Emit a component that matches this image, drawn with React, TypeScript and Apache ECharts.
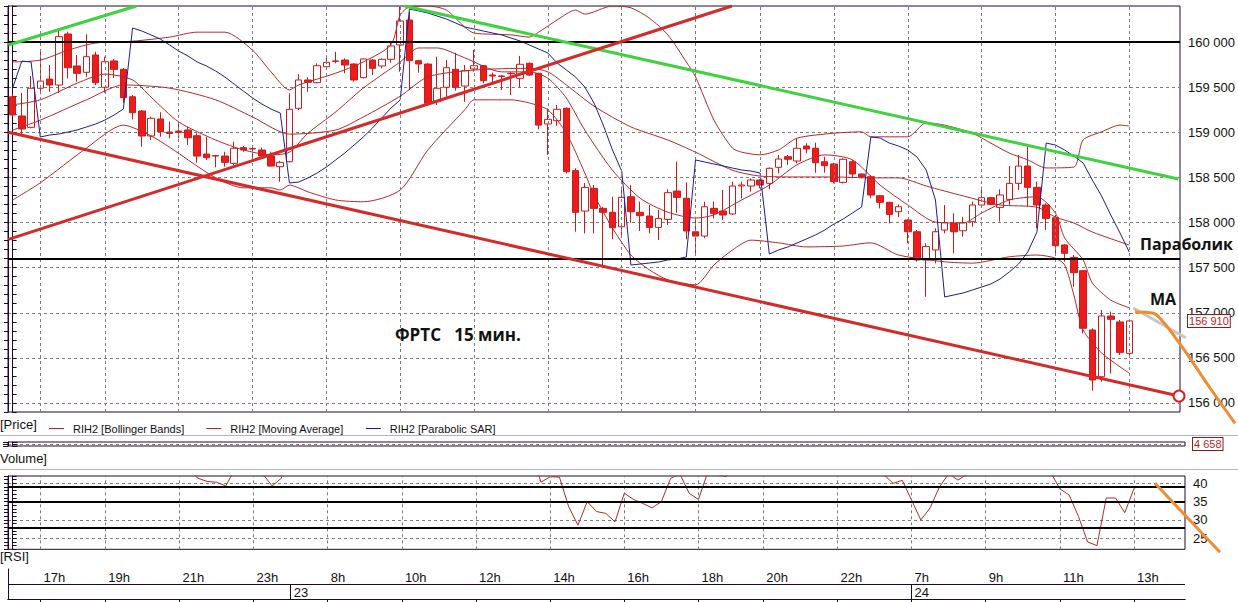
import React, { useEffect, useRef } from 'react';
import * as echarts from 'echarts';

// ---------------- data ----------------
// 15-minute bars, [open, close, low, high]
const candles: number[][] = [
  [159394,159192,159170,159420],[159181,159037,158970,159436],[159055,159488,159044,159624],[159488,159568,159420,159893],
  [159590,159524,159450,159746],[159524,160060,159436,160142],[160090,159716,159598,160115],[159735,159654,159561,159857],
  [159665,159838,159616,160086],[159857,159550,159524,159893],[159499,159783,159439,159838],[159791,159698,159602,159813],
  [159698,159384,159328,159713],[159394,159217,159144,159413],[159236,158959,158840,159247],[158959,159155,158915,159173],
  [159148,159007,158952,159222],[159003,158988,158934,159118],[159014,158999,158934,159106],[159026,158940,158859,159062],
  [158962,158737,158663,158989],[158759,158718,158693,158952],[158742,158737,158612,158749],[158737,158667,158619,158785],
  [158656,158823,158637,158896],[158830,158804,158785,158848],[158822,158815,158711,158840],[158804,158737,158723,158830],
  [158737,158626,158619,158785],[158619,158667,158452,158685],[158674,159255,158667,159432],[159266,159580,159247,159646],
  [159580,159554,159450,159610],[159550,159738,159543,159765],[159727,159776,159709,159849],[159791,159787,159765,159893],
  [159801,159746,159654,159820],[159757,159580,159561,159765],[159606,159813,159598,159820],[159801,159709,159635,159809],
  [159735,159809,159709,159820],[159809,159957,159772,159993],[159968,160234,159672,160392],[160245,159794,159469,160337],
  [159794,159757,159661,159801],[159757,159321,159291,159765],[159339,159488,159303,159838],[159499,159716,159395,159801],
  [159698,159499,159461,159882],[159513,159683,159339,159746],[159702,159738,159672,159912],[159738,159572,159543,159746],
  [159635,159624,159524,159661],[159624,159620,159469,159635],[159654,159650,159413,159670],[159598,159754,159499,159846],
  [159765,159635,159624,159772],[159654,159080,159033,159661],[159092,159144,158749,159266],[159129,159255,159070,159303],
  [159266,158564,158545,159277],[158575,158113,157898,158601],[158127,158389,157880,158438],[158379,158157,157880,158416],
  [158157,158113,157510,158175],[158113,157942,157814,158286],[157953,158279,157843,158397],[158286,158120,157998,158416],
  [158113,158076,157906,158231],[158072,157946,157880,158194],[157946,158046,157806,158139],[158035,158331,157973,158368],
  [158349,158279,158109,158674],[158269,157906,157814,158446],[157898,157850,157640,158064],[157850,158175,157825,158231],
  [158157,158102,158046,158231],[158128,158083,158028,158360],[158095,158405,158083,158453],[158405,158416,158269,158453],
  [158405,158471,158342,158490],[158471,158416,158379,158479],[158434,158601,158368,158612],[158612,158704,158545,158749],
  [158730,158701,158637,158749],[158682,158823,158656,158933],[158848,158815,158767,158878],[158823,158663,158552,158885],
  [158674,158630,158552,158730],[158649,158453,158434,158663],[158445,158701,158434,158712],[158674,158538,158490,158693],
  [158538,158508,158490,158545],[158508,158305,158269,158527],[158297,158224,158157,158305],[158224,158090,157990,158230],
  [158120,158175,158060,158200],[158028,157898,157770,158035],[157898,157585,157566,157917],[157585,157733,157178,157770],
  [157696,157898,157548,157936],[157917,157998,157880,158194],[157991,157898,157659,158102],[157909,157998,157843,158064],
  [158010,158194,157954,158231],[158194,158275,158175,158397],[158275,158201,158191,158283],[158168,158305,158010,158368],
  [158257,158434,158194,158626],[158434,158626,158360,158749],[158626,158390,158175,158841],[158390,158194,157936,158453],
  [158194,158046,157917,158212],[158053,157743,157659,158083],[157751,157659,157566,157762],[157614,157444,157289,157640],
  [157466,156828,156772,157474],[156809,156255,156137,156828],[156291,156964,156236,157031],[156964,156927,156329,157012],
  [156898,156561,156532,156920],[156550,156910,156513,156920],
];

// Bollinger bands, [bar, value]
const upperBand: number[][] = [
  [0,159780],[3,159800],[6,159910],[9,159990],[13,160010],[17,160055],[20,160110],[23,160110],[26,159910],[28,159670],
  [30,159470],[31,159525],[35,159655],[38,159780],[41,159970],[42,160300],[43,160390],[45,160400],[47,160355],[49,160165],
  [50,160100],[54,160080],[56,160055],[57,160110],[59,160245],[61,160355],[62,160310],[65,160400],[67,160380],[69,160265],
  [71,160080],[73,159780],[74,159615],[76,159135],[78,158825],[79,158780],[81,158750],[83,158805],[85,158935],[89,158990],
  [92,159005],[93,158950],[97,158950],[99,159105],[101,159080],[104,158990],[106,158880],[108,158770],[110,158695],[112,158605],
  [115,158615],[116,158915],[118,159005],[120,159080],[121,159070],
];
const middleBand: number[][] = [
  [0,159025],[3,159135],[8,159360],[12,159525],[17,159490],[22,159360],[26,159170],[30,158980],[35,159025],[38,159170],
  [42,159400],[45,159615],[50,159690],[56,159710],[58,159670],[60,159525],[63,159290],[67,159060],[71,158915],[74,158780],
  [78,158580],[81,158515],[85,158505],[89,158505],[93,158495],[96,158495],[99,158405],[103,158295],[107,158195],[111,158170],
  [113,158060],[115,157995],[117,157895],[121,157750],
];
const lowerBand: number[][] = [
  [0,158250],[3,158440],[8,158825],[12,159080],[15,158960],[17,158835],[22,158495],[25,158385],[28,158385],[29,158360],
  [30,158415],[32,158340],[35,158250],[38,158230],[42,158360],[45,158805],[49,159250],[50,159360],[54,159360],[56,159325],
  [58,159250],[60,158990],[62,158550],[63,158305],[65,157940],[67,157640],[69,157475],[71,157365],[74,157310],[76,157530],
  [78,157695],[80,157805],[83,157775],[86,157730],[90,157740],[93,157775],[96,157640],[101,157565],[104,157550],[108,157620],
  [111,157640],[113,157605],[114,157530],[115,157195],[116,156810],[118,156555],[121,156330],
];
const movingAverage: number[][] = [
  [0,159305],[3,159360],[7,159545],[10,159645],[13,159580],[15,159390],[18,159115],[22,158915],[25,158805],[28,158750],
  [30,158780],[32,158990],[35,159225],[38,159490],[42,159780],[44,159935],[46,159935],[49,159825],[53,159670],[56,159670],
  [58,159600],[60,159380],[62,159025],[65,158580],[68,158270],[71,158115],[74,158050],[76,158085],[79,158250],[82,158415],
  [85,158640],[88,158750],[91,158695],[94,158415],[97,158195],[100,158005],[103,157995],[105,158105],[108,158250],[111,158285],
  [113,158105],[114,157830],[116,157585],[117,157330],[119,157140],[121,157055],
];
// Parabolic SAR, one value per bar
const sarValues: number[] = [
  159491,159790,159779,158948,158970,158981,159003,159026,159059,159092,
  159136,159192,159258,160156,160123,160079,160034,159968,159901,159846,
  159779,159735,159680,159613,159535,159458,159380,159314,159258,159214,
  158438,158449,158494,158549,158615,158693,158771,158859,158948,159048,
  159159,159269,159358,160367,160345,160322,160289,160256,160212,160167,
  160145,160123,160101,160079,160045,160012,159968,159923,159879,159768,
  159691,159613,159502,159325,159081,158804,158571,157529,157540,157551,
  157563,157585,157596,157618,158693,158671,158649,158627,158604,158582,
  158571,158549,157651,157696,157729,157773,157817,157862,157917,157984,
  158039,158106,158172,158948,158937,158881,158848,158804,158726,158582,
  158250,157175,157197,157219,157252,157285,157319,157374,157452,157540,
  157673,157895,158881,158859,158804,158737,158660,158471,158294,158083,
  157884,157673,
];
// RSI, one value per bar (values above 42 run off the top of the panel)
const rsiValues: number[] = [
  45,44,52,54,53,62,55,54,58,52,
  57,55,49,46,43,47,45,44.5,44.8,43.5,
  41.4,40.5,40.3,39.3,44,43.5,43.4,42.5,39.3,41.4,
  55,60,59,62,63,63,61,57,61,58,
  60,63,67,57,56,48,51,55,50,53,
  54,50,49.5,49.4,49.5,52,49,40.3,41.8,41.7,
  33.6,28.6,35.0,32.3,31.8,29.5,37.3,35.6,34.5,33.3,
  35.0,41.4,42.5,37.3,35.6,43,42.5,41.8,46,46.3,
  47,46,49,51,50.5,53,52,48,47,43.5,
  49,46,45.5,42.5,42.4,40.0,40.8,35.4,30.0,33.3,
  39.0,42.6,40.9,42.5,46,48,46.5,49,52,56,
  50,46,43,38.5,36.8,31.0,24.0,23.0,36.0,36.0,
  32.0,38.6,
];

const hourTickBars = [3, 10, 18, 26, 34, 42, 50, 58, 66, 74, 81, 89, 97, 105, 113, 121];
const hourTickLabels = ['17h','19h','21h','23h','8h','10h','12h','14h','16h','18h','20h','22h','7h','9h','11h','13h'];
const dayStartBars = [30, 97];
const dayLabels = ['23', '24'];

const priceLevels = [160000, 157600];
const rsiLevels = [39, 35, 28];
const lastVolume = 4658;

// hand-drawn lines, [bar, value]
const greenTrend1 = [[-0.46, 159968], [13.39, 160400]];
const greenTrend2 = [[42.45, 160400], [126.32, 158482]];
const redTrend1 = [[-0.46, 157814], [77.94, 160400]];
const redTrend2 = [[-0.46, 159000], [126.39, 156077]];
const maForecast = [[121.1, 157008], [123.08, 156994], [124.13, 156901], [125.42, 156731], [126.68, 156550], [129.2, 156166], [131.9, 155775]];
const maExtension = [[120.92, 157053], [126.57, 156723]];
const rsiForecast = [[123.26, 40], [130.28, 21.2]];

// ---------------- layout / style ----------------
const AX = '#1e0a28';
const GRID = '#7c7c7c';
const RED = '#b4282c';
const BLUE = '#1d1d8f';
const GREEN = '#3ed23e';
const TREND_RED = '#d42a2a';
const ORANGE = '#f08c32';
const SANS = '"Liberation Sans", Arial, sans-serif';
const BOLD = '"Open Sans", "Noto Sans", sans-serif';
const DASH = [3, 3];

const BB = 'RIH2 [Bollinger Bands]';
const MA = 'RIH2 [Moving Average]';
const SAR = 'RIH2 [Parabolic SAR]';

const PLOT_LEFT = 8;
const PLOT_W = 1177;
const MAIN_TOP = 6;
const MAIN_H = 406;
const RSI_TOP = 476;
const RSI_H = 73.3;
const EXT_W = 1230; // annotation layer reaching to the page edge

const PRICE_MIN = 155900;
const PRICE_MAX = 160400;
const RSI_MIN = 22;
const RSI_MAX = 42;
const X_MIN = -0.5;
const X_MAX = 126.5;
const SLOT_COUNT = 127;

const fmt = (v: number) => {
  const s = String(Math.round(v));
  return s.length > 3 ? s.slice(0, -3) + ' ' + s.slice(-3) : s;
};

function buildOption() {
  const slots = Array.from({ length: SLOT_COUNT }, (_, i) => String(i));
  const hourSet = new Set(hourTickBars);
  const daySet = new Set(dayStartBars);
  const hourLabel = (v: string) => {
    const k = hourTickBars.indexOf(Number(v));
    return k >= 0 ? hourTickLabels[k] : '';
  };
  const dayLabel = (v: string) => {
    const k = dayStartBars.indexOf(Number(v));
    return k >= 0 ? dayLabels[k] : '';
  };
  const lastClose = candles[candles.length - 1][1];

  // annotation layers share the scales of the panels but reach past their right edge
  const extXMax = X_MIN + ((X_MAX - X_MIN) * EXT_W) / PLOT_W;
  const extMainH = 602 - MAIN_TOP;
  const extPriceMin = PRICE_MAX - ((PRICE_MAX - PRICE_MIN) * extMainH) / MAIN_H;
  const extRsiH = 602 - RSI_TOP;
  const extRsiMin = RSI_MAX - ((RSI_MAX - RSI_MIN) * extRsiH) / RSI_H;

  const vGrid = (xi: number, yi: number) => ({
    type: 'line', xAxisIndex: xi, yAxisIndex: yi, data: [], z: 0, silent: true,
    markLine: {
      silent: true, symbol: ['none', 'none'], animation: false, label: { show: false },
      lineStyle: { color: GRID, type: DASH, width: 1 },
      data: hourTickBars.map((b) => ({ xAxis: b })),
    },
  });
  const hLevels = (xi: number, yi: number, levels: number[]) => ({
    type: 'line', xAxisIndex: xi, yAxisIndex: yi, data: [], z: 4, silent: true,
    markLine: {
      silent: true, symbol: ['none', 'none'], animation: false, label: { show: false },
      lineStyle: { color: '#000', type: 'solid', width: 2 },
      data: levels.map((l) => ({ yAxis: l })),
    },
  });
  const tag = (xi: number, yi: number, value: number) => ({
    type: 'line', xAxisIndex: xi, yAxisIndex: yi, data: [], z: 6, silent: true,
    markLine: {
      silent: true, symbol: ['none', 'none'], animation: false,
      lineStyle: { color: 'transparent', width: 0 },
      label: {
        show: true, position: 'end', distance: 8, formatter: fmt(value),
        color: '#c4221c', fontFamily: SANS, fontSize: 11, backgroundColor: '#fff',
        borderColor: '#8c1c1c', borderWidth: 1, padding: [1, 1, 0, 1],
      },
      data: [{ yAxis: value }],
    },
  });
  const ind = (name: string, data: any[], color: string, smooth: number | boolean) => ({
    type: 'line', name, xAxisIndex: 0, yAxisIndex: 0, data, z: 3, silent: true,
    showSymbol: false, symbol: 'none', smooth,
    lineStyle: { color, width: 1 }, itemStyle: { color },
  });
  const trend = (data: any[], color: string, xi = 0, yi = 0, smooth: number | boolean = false, z = 5) => ({
    type: 'line', xAxisIndex: xi, yAxisIndex: yi, data, z, silent: true, smooth,
    showSymbol: false, symbol: 'none', lineStyle: { color, width: 3 }, itemStyle: { color },
  });

  const priceAxis = (position: string, labels: boolean) => ({
    gridIndex: 0, type: 'value', position, min: PRICE_MIN, max: PRICE_MAX, interval: 100,
    axisLine: { show: true, lineStyle: { color: AX } },
    axisTick: { show: true, length: 4, lineStyle: { color: AX } },
    axisLabel: labels
      ? { show: true, margin: 8, color: '#111', fontFamily: SANS, fontSize: 13,
          formatter: (v: number) => (v % 500 === 0 ? fmt(v) : '') }
      : { show: false },
    splitLine: labels
      ? { show: true, lineStyle: { color: ['transparent', GRID, 'transparent', 'transparent', 'transparent'], type: DASH, width: 1 } }
      : { show: false },
  });
  const volAxis = (position: string, split: boolean) => ({
    gridIndex: 1, type: 'value', position, min: 0, max: lastVolume * 2, interval: lastVolume,
    axisLine: { show: true, lineStyle: { color: AX } },
    axisTick: { show: true, length: 5, lineStyle: { color: AX } },
    axisLabel: { show: false },
    splitLine: split
      ? { show: true, lineStyle: { color: ['transparent', GRID, 'transparent'], type: DASH, width: 1 } }
      : { show: false },
  });
  const rsiAxis = (position: string, labels: boolean) => ({
    gridIndex: 2, type: 'value', position, min: RSI_MIN, max: RSI_MAX, interval: 1,
    axisLine: { show: true, lineStyle: { color: AX } },
    axisTick: { show: true, length: 4, lineStyle: { color: AX } },
    axisLabel: labels
      ? { show: true, margin: 8, color: '#111', fontFamily: SANS, fontSize: 13,
          formatter: (v: number) => (v % 5 === 0 ? String(v) : '') }
      : { show: false },
    splitLine: labels
      ? { show: true, lineStyle: { color: ['transparent', 'transparent', 'transparent', GRID, 'transparent'], type: DASH, width: 1 } }
      : { show: false },
  });
  const timeAxis = (position: string, set: Set<number>, formatter: (v: string) => string, margin: number) => ({
    gridIndex: 3, type: 'category', data: slots, position, boundaryGap: true,
    axisLine: { show: true, lineStyle: { color: AX } },
    axisTick: { show: true, inside: true, length: 15, alignWithLabel: true, interval: (i: number) => set.has(i), lineStyle: { color: AX } },
    axisLabel: {
      show: true, inside: true, interval: (i: number) => set.has(i), formatter,
      align: 'left', verticalAlign: 'middle', margin, padding: [0, 0, 0, 3],
      color: '#111', fontFamily: SANS, fontSize: 13,
    },
    splitLine: { show: false },
  });

  const txt = (size: number, family: string, weight = 'normal') => ({
    font: `${weight} ${size}px ${family}`, fill: '#111',
  });

  return {
    animation: false,
    backgroundColor: '#ffffff',
    textStyle: { fontFamily: SANS },
    grid: [
      { left: PLOT_LEFT, top: MAIN_TOP, width: PLOT_W, height: MAIN_H, show: true, borderColor: AX, borderWidth: 1 },
      { left: PLOT_LEFT, top: 442, width: PLOT_W, height: 4, show: true, borderColor: AX, borderWidth: 1 },
      { left: PLOT_LEFT, top: RSI_TOP, width: PLOT_W, height: RSI_H, show: true, borderColor: AX, borderWidth: 1 },
      { left: PLOT_LEFT, top: 569, width: PLOT_W, height: 30, show: false },
      { left: PLOT_LEFT, top: MAIN_TOP, width: EXT_W, height: extMainH, show: false },
      { left: PLOT_LEFT, top: RSI_TOP, width: EXT_W, height: extRsiH, show: false },
    ],
    legend: {
      left: 44, top: 418, icon: 'rect', itemWidth: 15, itemHeight: 1, itemGap: 22, selectedMode: false,
      data: [BB, MA, SAR],
      textStyle: { color: '#111', fontFamily: SANS, fontSize: 11, padding: [0, 0, 0, 4] },
    },
    xAxis: [
      { gridIndex: 0, type: 'value', min: X_MIN, max: X_MAX, show: false },
      { gridIndex: 1, type: 'value', min: X_MIN, max: X_MAX, show: false },
      { gridIndex: 2, type: 'value', min: X_MIN, max: X_MAX, show: false },
      timeAxis('top', hourSet, hourLabel, 8),
      timeAxis('bottom', daySet, dayLabel, 7),
      { gridIndex: 4, type: 'value', min: X_MIN, max: extXMax, show: false },
      { gridIndex: 5, type: 'value', min: X_MIN, max: extXMax, show: false },
    ],
    yAxis: [
      priceAxis('right', true),
      priceAxis('left', false),
      volAxis('right', true),
      volAxis('left', false),
      rsiAxis('right', true),
      rsiAxis('left', false),
      {
        gridIndex: 3, type: 'value', min: 0, max: 2, interval: 1, position: 'left',
        axisLine: { show: true, lineStyle: { color: AX } },
        axisTick: { show: false }, axisLabel: { show: false },
        splitLine: { show: true, lineStyle: { color: ['transparent', AX, 'transparent'], type: 'solid', width: 1 } },
      },
      { gridIndex: 4, type: 'value', min: extPriceMin, max: PRICE_MAX, show: false },
      { gridIndex: 5, type: 'value', min: extRsiMin, max: RSI_MAX, show: false },
    ],
    series: [
      vGrid(0, 0),
      {
        type: 'candlestick', name: 'Price', xAxisIndex: 0, yAxisIndex: 0, z: 2, silent: true,
        data: candles.map((c, i) => [i, ...c]),
        barWidth: 7,
        itemStyle: { color: '#ffffff', color0: '#ec1c1c', borderColor: '#d01a1a', borderColor0: '#d01a1a', borderWidth: 1 },
      },
      ind(BB, upperBand, RED, 0.25),
      ind(BB, middleBand, RED, 0.25),
      ind(BB, lowerBand, RED, 0.25),
      ind(MA, movingAverage, RED, 0.25),
      ind(SAR, sarValues.map((v, i) => [i, v]), BLUE, false),
      hLevels(0, 0, priceLevels),
      trend(greenTrend1, GREEN),
      trend(greenTrend2, GREEN),
      trend(redTrend1, TREND_RED),
      {
        type: 'line', xAxisIndex: 0, yAxisIndex: 0, z: 5, silent: true, showSymbol: true, symbol: 'none',
        data: [redTrend2[0], { value: redTrend2[1], symbol: 'emptyCircle', symbolSize: 11, itemStyle: { color: '#e01e1e', borderWidth: 2 } }],
        lineStyle: { color: TREND_RED, width: 3 }, itemStyle: { color: TREND_RED },
      },
      trend(maExtension, '#c6c6c6', 5, 7, false, 6),
      trend(maForecast, ORANGE, 5, 7, 0.35, 7),
      tag(0, 0, lastClose),
      // volume panel
      tag(1, 2, lastVolume),
      // RSI panel
      vGrid(2, 4),
      {
        type: 'line', name: 'RSI', xAxisIndex: 2, yAxisIndex: 4, z: 3, silent: true,
        data: rsiValues.map((v, i) => [i, v]), showSymbol: false, symbol: 'none',
        lineStyle: { color: RED, width: 1 }, itemStyle: { color: RED },
      },
      hLevels(2, 4, rsiLevels),
      trend(rsiForecast, ORANGE, 6, 8, false, 7),
    ],
    graphic: [
      { type: 'line', silent: true, shape: { x1: 0, y1: 435.5, x2: 1238, y2: 435.5 }, style: { stroke: '#b4b4b4', lineWidth: 1 } },
      { type: 'line', silent: true, shape: { x1: 0, y1: 469.5, x2: 1238, y2: 469.5 }, style: { stroke: '#b4b4b4', lineWidth: 1 } },
      { type: 'text', silent: true, left: 0, top: 418, style: { text: '[Price]', ...txt(13, SANS) } },
      { type: 'text', silent: true, left: 0, top: 452, style: { text: 'Volume]', ...txt(13, SANS) } },
      { type: 'text', silent: true, left: 0, top: 550, style: { text: '[RSI]', ...txt(13, SANS) } },
      { type: 'text', silent: true, left: 395, top: 326, style: { text: 'ФРТС   15 мин.', ...txt(17, BOLD, 'bold') } },
      { type: 'text', silent: true, left: 1140, top: 236, style: { text: 'Параболик', ...txt(16, BOLD, 'bold') } },
      { type: 'text', silent: true, left: 1150, top: 291, style: { text: 'МА', ...txt(16, BOLD, 'bold') } },
    ],
  };
}

export default function App() {
  const ref = useRef<HTMLDivElement>(null);
  useEffect(() => {
    if (!ref.current) return;
    const chart = echarts.init(ref.current, undefined, { renderer: 'svg' });
    chart.setOption(buildOption() as any);
    return () => chart.dispose();
  }, []);
  return (
    <div
      ref={ref}
      style={{ position: 'fixed', left: 0, top: 0, width: 1238, height: 602, background: '#ffffff' }}
    />
  );
}
